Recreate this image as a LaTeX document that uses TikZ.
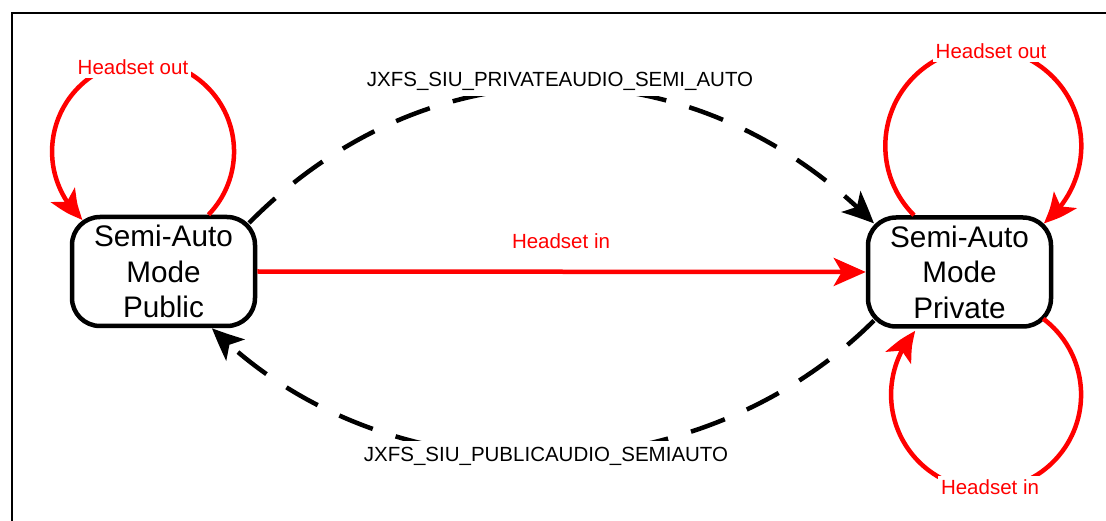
\documentclass[tikz,border=0pt]{standalone}
\usepackage{fontspec}
\setmainfont{Liberation Sans}
\usetikzlibrary{arrows.meta,bending,calc}
\begin{document}
\begin{tikzpicture}[x=1pt,y=1pt,
  state/.style={draw, line width=4.5pt, rounded corners=28pt,
    minimum width=183pt, minimum height=109pt, inner sep=0pt,
    align=center, font=\fontsize{29.7}{35.5}\selectfont},
  lbl/.style={font=\fontsize{20.5}{24}\selectfont, fill=white, inner xsep=3pt, inner ysep=6pt},
  redlbl/.style={lbl, text=red, inner ysep=3pt},
  tipstyle/.style={-{Stealth[length=32pt,width=28pt,inset=8pt,bend]}},
  redarr/.style={draw=red, line width=4.5pt, tipstyle},
  dasharr/.style={draw=black, line width=4.5pt, dash pattern=on 36pt off 24pt, tipstyle}
]
\useasboundingbox (0,0) rectangle (1106,-521);
\clip (0,0) rectangle (1106,-521);

% outer frame
\draw[line width=2pt] (12,-540) -- (12,-13) -- (1120,-13);

% states
\node[state] (pub)  at (163.5,-271.5) {Semi-Auto\\Mode\\Public};
\node[state] (priv) at (959.5,-272)   {Semi-Auto\\Mode\\Private};

% self loops
\draw[redarr] ($(pub.north)+(45,0)$) arc[start angle=-44, end angle=228.5, radius=91];
\draw[redarr] ($(priv.north)+(-45.5,0)$) arc[start angle=225, end angle=-52, radius=98];
\draw[redarr] ($(priv.south east)+(-10,10)$) arc[start angle=53, end angle=-222, radius=95];

% direct transition
\draw[redarr] (pub.east) -- (priv.west);

% dashed transitions
\draw[dasharr] ($(pub.north east)+(-8.2,-8.2)$)
  .. controls +(180,182) and +(-180,182) .. ($(priv.north west)+(8.2,-8.2)$);
\draw[dasharr] ($(priv.south west)+(8.2,8.2)$)
  .. controls +(-176,-176) and +(176,-176) .. ($(pub.south)+(48.5,0)$);

% labels
\node[redlbl] (l1) at (133,-67)  {Headset out};
\node[redlbl] (l2) at (991,-51)  {Headset out};
\node[redlbl] (l3) at (990,-487) {Headset in};
\node[redlbl] (l4) at (561,-241) {Headset in};
\node[lbl] (l5) at (560,-81)  {JXFS\_SIU\_PRIVATEAUDIO\_SEMI\_AUTO};
\node[lbl] (l6) at (546,-456) {JXFS\_SIU\_PUBLICAUDIO\_SEMIAUTO};
\end{tikzpicture}
\end{document}
